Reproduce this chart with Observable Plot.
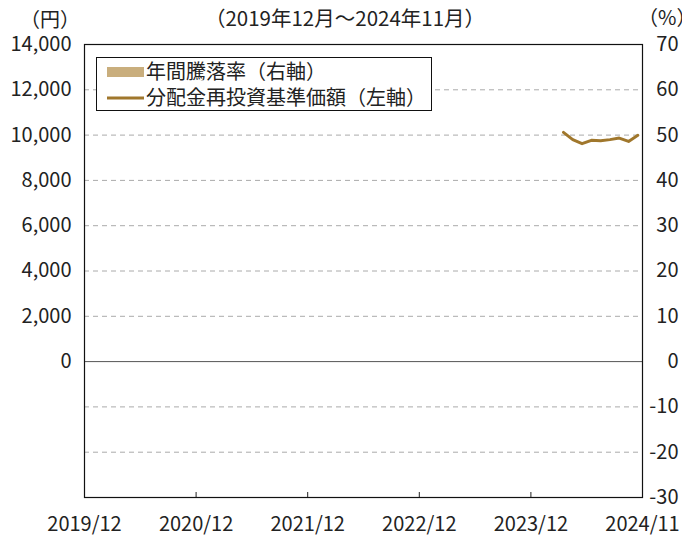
<!DOCTYPE html>
<html><head><meta charset="utf-8">
<script src="https://cdn.jsdelivr.net/npm/d3@7"></script>
<script src="https://cdn.jsdelivr.net/npm/@observablehq/plot@0.6"></script>
<style>body{margin:0;background:#fff}#chart{width:682px;height:536px;overflow:hidden}</style>
</head><body><div id="chart"></div>
<script>
const FONT = "'Noto Sans CJK JP', 'Noto Sans', sans-serif";
const titleText = "（2019年12月〜2024年11月）";
const leftUnit = "（円）";
const rightUnit = "（%）";
const legendLabels = ["年間騰落率（右軸）", "分配金再投資基準価額（左軸）"];
const xTickLabels = ["2019/12", "2020/12", "2021/12", "2022/12", "2023/12", "2024/11"];
const leftTicks = [0, 2000, 4000, 6000, 8000, 10000, 12000, 14000];
const rightTicks = [-30, -20, -10, 0, 10, 20, 30, 40, 50, 60, 70];
const startMonth = "2019/12";
const totalMonths = 60;

// 分配金再投資基準価額（左軸）
const navMonths = ["2024/03", "2024/04", "2024/05", "2024/06", "2024/07", "2024/08", "2024/09", "2024/10", "2024/11"];
const navValues = [10120, 9800, 9620, 9770, 9750, 9800, 9870, 9720, 9990];
// 年間騰落率（右軸） – no values shown in the period
const returnMonths = [];
const returnValues = [];

const navColor = "#a0772c";
const barColor = "#c9ae7d";
const ratio = 200; // 1% on right axis = 200円 on left axis

const monthIndex = s => {
  const [y, m] = s.split("/").map(Number);
  const [y0, m0] = startMonth.split("/").map(Number);
  return (y - y0) * 12 + (m - m0);
};
const nav = navMonths.map((m, i) => ({x: monthIndex(m) + 0.5, y: navValues[i]}));
const rets = returnMonths.map((m, i) => ({x1: monthIndex(m) + 0.1, x2: monthIndex(m) + 0.9, y: returnValues[i] * ratio}));
const xTickPos = xTickLabels.map((_, i) => Math.min(i * 12, totalMonths));
const gridVals = rightTicks.filter(v => v !== 0 && v !== rightTicks[0] && v !== rightTicks[rightTicks.length - 1]).map(v => v * ratio);

const W = 682, H = 536, mL = 84, mR = 40, mT = 44, mB = 39;
const plot = Plot.plot({
  width: W, height: H,
  marginLeft: mL, marginRight: mR, marginTop: mT, marginBottom: mB,
  style: {fontFamily: FONT, fontSize: "20px", background: "white", color: "#222", overflow: "visible"},
  x: {type: "linear", domain: [0, totalMonths]},
  y: {domain: [rightTicks[0] * ratio, rightTicks[rightTicks.length - 1] * ratio]},
  marks: [
    Plot.ruleY(gridVals, {stroke: "#aaaaaa", strokeDasharray: "5,4", strokeWidth: 1}),
    Plot.rectY(rets, {x1: "x1", x2: "x2", y: "y", fill: barColor}),
    Plot.ruleY([0], {stroke: "#555", strokeWidth: 1}),
    Plot.ruleX(xTickPos.slice(1, -1), {insetTop: H - mT - mB - 5, stroke: "#222", strokeWidth: 1}),
    Plot.lineY(nav, {x: "x", y: "y", stroke: navColor, strokeWidth: 3, strokeLinejoin: "round"}),
    Plot.frame({stroke: "#111", strokeWidth: 1.2}),
    Plot.axisY({anchor: "left", ticks: leftTicks, tickSize: 0, tickPadding: 13, tickFormat: d3.format(","), label: null, fontSize: 20}),
    Plot.axisY({anchor: "right", ticks: rightTicks.map(v => v * ratio), tickSize: 0, tickPadding: 3, textAnchor: "end", dx: 33, tickFormat: v => String(Math.round(v / ratio)), label: null, fontSize: 20}),
    Plot.axisX({ticks: xTickPos, tickSize: 0, tickPadding: 19, tickFormat: (d, i) => xTickLabels[xTickPos.indexOf(d)], label: null, fontSize: 20})
  ]
});
document.getElementById("chart").appendChild(plot);

const svg = d3.select(plot);
const addText = (x, y, t, anchor) => svg.append("text").attr("x", x).attr("y", y).attr("dy", "0.35em")
  .attr("text-anchor", anchor).attr("font-family", FONT).attr("font-size", 20).attr("fill", "#222").text(t);
addText(20, 20, leftUnit, "start");
addText(638, 18, rightUnit, "start");
addText(345, 19, titleText, "middle").attr("font-size", 20.5);

// legend
const lg = svg.append("g");
lg.append("rect").attr("x", 96.5).attr("y", 57.5).attr("width", 335).attr("height", 53).attr("fill", "white").attr("stroke", "#111").attr("stroke-width", 1);
lg.append("rect").attr("x", 107).attr("y", 67).attr("width", 37).attr("height", 10).attr("fill", barColor);
lg.append("line").attr("x1", 107).attr("x2", 144).attr("y1", 98).attr("y2", 98).attr("stroke", navColor).attr("stroke-width", 3);
lg.append("text").attr("x", 146).attr("y", 72).attr("dy", "0.35em").attr("text-anchor", "start").attr("font-family", FONT).attr("font-size", 20).attr("fill", "#222").text(legendLabels[0]);
lg.append("text").attr("x", 146).attr("y", 98).attr("dy", "0.35em").attr("text-anchor", "start").attr("font-family", FONT).attr("font-size", 20).attr("fill", "#222").text(legendLabels[1]);
</script>
</body></html>
